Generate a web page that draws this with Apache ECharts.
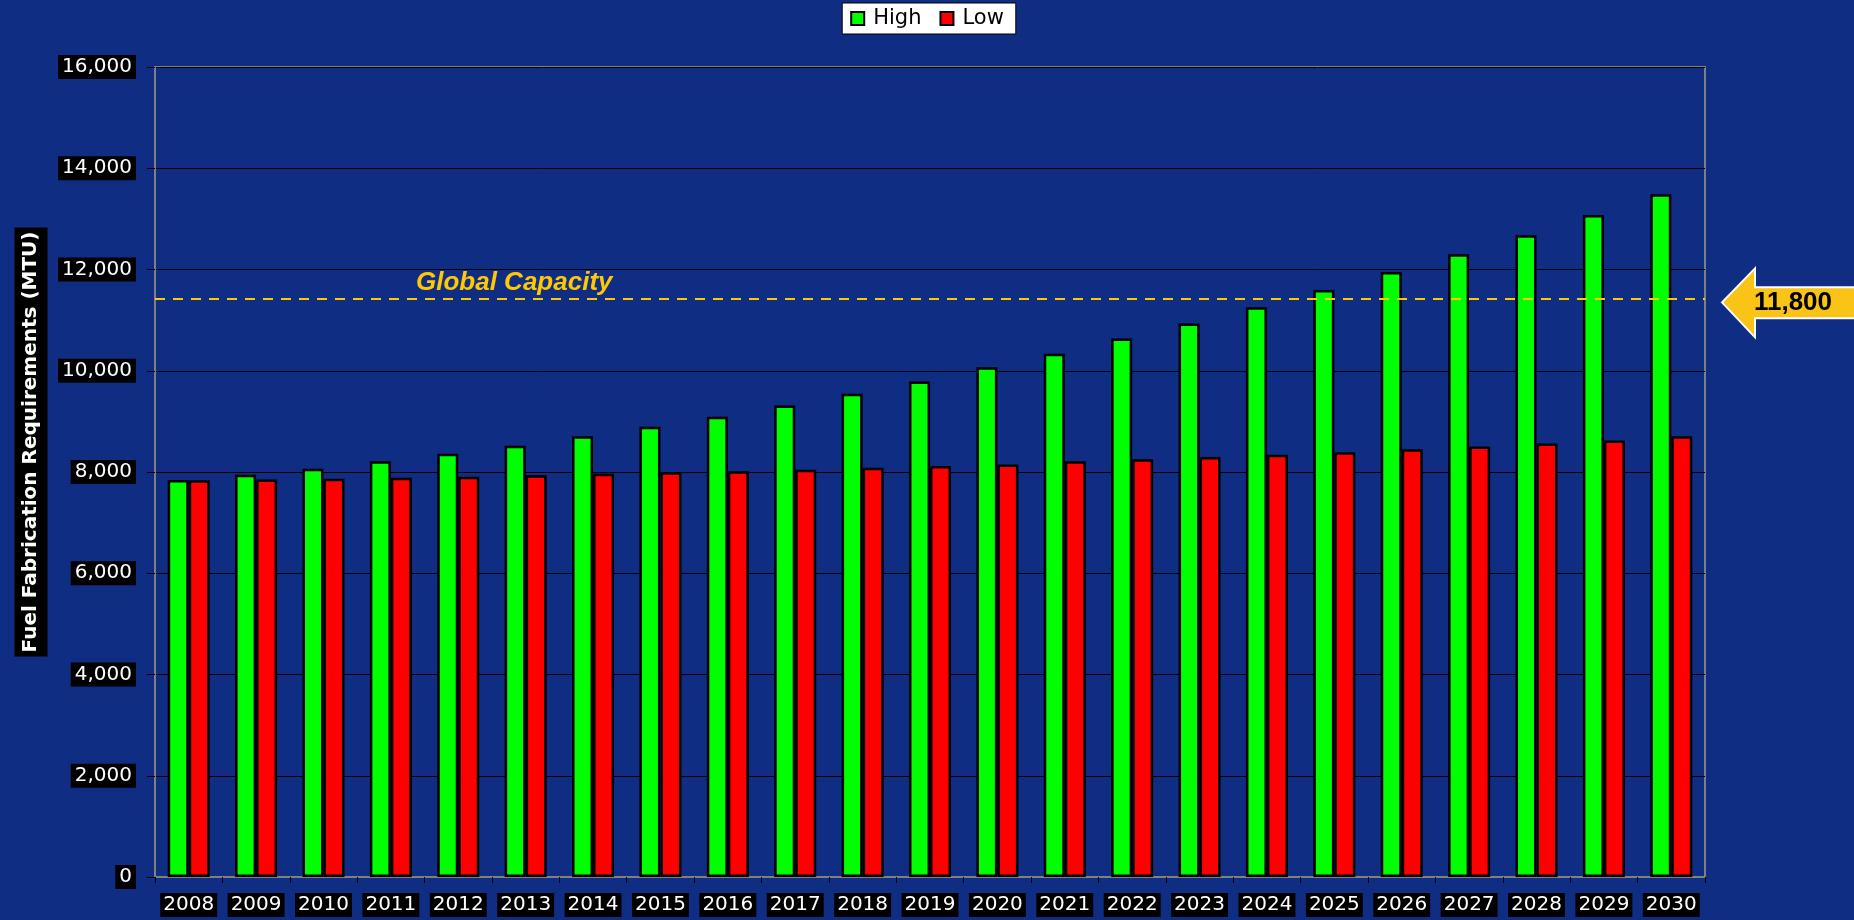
<!doctype html>
<html>
<head>
<meta charset="utf-8">
<title>Fuel Fabrication Requirements</title>
<script src="https://cdn.jsdelivr.net/npm/echarts/dist/echarts.min.js"></script>
<style>
  html, body { margin: 0; padding: 0; background: #0F2D82; }
  #chartmain { width: 1854px; height: 920px; }
</style>
</head>
<body>
<div id="chartmain"></div>
<script type="text/javascript">
// years on the x axis
var years = ['2008', '2009', '2010', '2011', '2012', '2013', '2014', '2015', '2016', '2017', '2018', '2019',
             '2020', '2021', '2022', '2023', '2024', '2025', '2026', '2027', '2028', '2029', '2030'];
// MTU
var highData = [7840, 7945, 8065, 8210, 8360, 8520, 8705, 8895, 9090, 9315, 9545, 9790,
                10070, 10335, 10635, 10935, 11255, 11595, 11950, 12300, 12675, 13075, 13485];
var lowData = [7835, 7850, 7865, 7885, 7905, 7935, 7965, 7995, 8015, 8045, 8085, 8120,
               8150, 8210, 8250, 8295, 8340, 8390, 8450, 8505, 8565, 8620, 8705];
var capacityLine = 11430;      // where the dashed line sits
var capacityText = '11,800';   // what the arrow says
var yMin = 0, yMax = 16000, yStep = 2000;

var font = 'DejaVu Sans';
var bg = '#0F2D82';

var option = {
    backgroundColor: bg,
    animation: false,
    legend: {
        top: 3,
        left: 'center',
        backgroundColor: '#fff',
        borderColor: '#000',
        borderWidth: 1,
        borderRadius: 0,
        padding: [5, 12, 5, 8],
        itemWidth: 13,
        itemHeight: 13,
        itemGap: 18,
        icon: 'rect',
        textStyle: {
            color: '#000',
            fontFamily: font,
            fontSize: 21,
            padding: [0, 0, 0, 4]
        },
        data: ['High', 'Low']
    },
    grid: {
        left: 155,
        right: 149,
        top: 67,
        bottom: 43,
        show: true,
        borderColor: '#808080',
        borderWidth: 2
    },
    xAxis: {
        type: 'category',
        data: years,
        axisLine: { show: true, lineStyle: { color: '#808080', width: 2 } },
        axisTick: { show: true, length: 6, lineStyle: { color: '#000', width: 1 } },
        axisLabel: {
            interval: 0,
            margin: 16,
            color: '#fff',
            fontFamily: font,
            fontSize: 20,
            lineHeight: 20,
            backgroundColor: '#000',
            padding: [2, 3]
        },
        splitLine: { show: false }
    },
    yAxis: {
        type: 'value',
        min: yMin,
        max: yMax,
        interval: yStep,
        axisLine: { show: true, lineStyle: { color: '#808080', width: 2 } },
        axisTick: { show: true, length: 8, lineStyle: { color: '#000', width: 1 } },
        axisLabel: {
            margin: 19,
            color: '#fff',
            fontFamily: font,
            fontSize: 20,
            lineHeight: 20,
            backgroundColor: '#000',
            padding: [2, 4],
            formatter: function (v) { return v.toLocaleString('en-US'); }
        },
        splitLine: { show: true, lineStyle: { color: '#000', width: 1 } }
    },
    graphic: [
        {
            type: 'text',
            x: 31,
            y: 442,
            rotation: Math.PI / 2,
            style: {
                text: 'Fuel Fabrication Requirements (MTU)',
                fill: '#fff',
                font: 'bold 20px "DejaVu Sans"',
                align: 'center',
                verticalAlign: 'middle',
                backgroundColor: '#000',
                padding: [4, 4, 9, 4]
            }
        }
    ],
    series: [
        {
            name: 'High',
            type: 'bar',
            data: highData,
            barWidth: 21,
            barGap: '0%',
            itemStyle: { color: '#00FF00', borderColor: '#000', borderWidth: 2.5 },
            markLine: {
                silent: true,
                symbol: 'none',
                data: [{ yAxis: capacityLine }],
                lineStyle: { color: '#FFC800', width: 2, type: [10, 8] },
                label: {
                    show: true,
                    position: 'insideStartTop',
                    distance: 3,
                    padding: [0, 0, 0, 258],
                    formatter: 'Global Capacity',
                    color: '#FFC800',
                    fontFamily: 'Liberation Sans',
                    fontSize: 26,
                    fontWeight: 'bold',
                    fontStyle: 'italic',
                    textShadowColor: '#000',
                    textShadowOffsetX: 2,
                    textShadowOffsetY: 2,
                    textShadowBlur: 0
                }
            }
        },
        {
            name: 'Low',
            type: 'bar',
            data: lowData,
            barWidth: 21,
            itemStyle: { color: '#FF0000', borderColor: '#000', borderWidth: 2.5 }
        }
    ]
};

var myChart = echarts.init(document.getElementById('chartmain'));
myChart.setOption(option);

// arrow callout on the right, hung off the capacity line
var lineY = myChart.convertToPixel({ yAxisIndex: 0 }, capacityLine);
var tipY = lineY + 4;
var tipX = 1722;
myChart.setOption({
    graphic: [
        option.graphic[0],
        {
            type: 'polygon',
            shape: {
                points: [
                    [tipX, tipY],
                    [tipX + 33, tipY - 34],
                    [tipX + 33, tipY - 15],
                    [1870, tipY - 15],
                    [1870, tipY + 16],
                    [tipX + 33, tipY + 16],
                    [tipX + 33, tipY + 35]
                ]
            },
            style: { fill: '#F9C416', stroke: '#fff', lineWidth: 2 }
        },
        {
            type: 'text',
            x: 1793,
            y: tipY,
            style: {
                text: capacityText,
                fill: '#000',
                font: 'bold 26px "Liberation Sans"',
                align: 'center',
                verticalAlign: 'middle'
            }
        }
    ]
});
</script>
</body>
</html>
